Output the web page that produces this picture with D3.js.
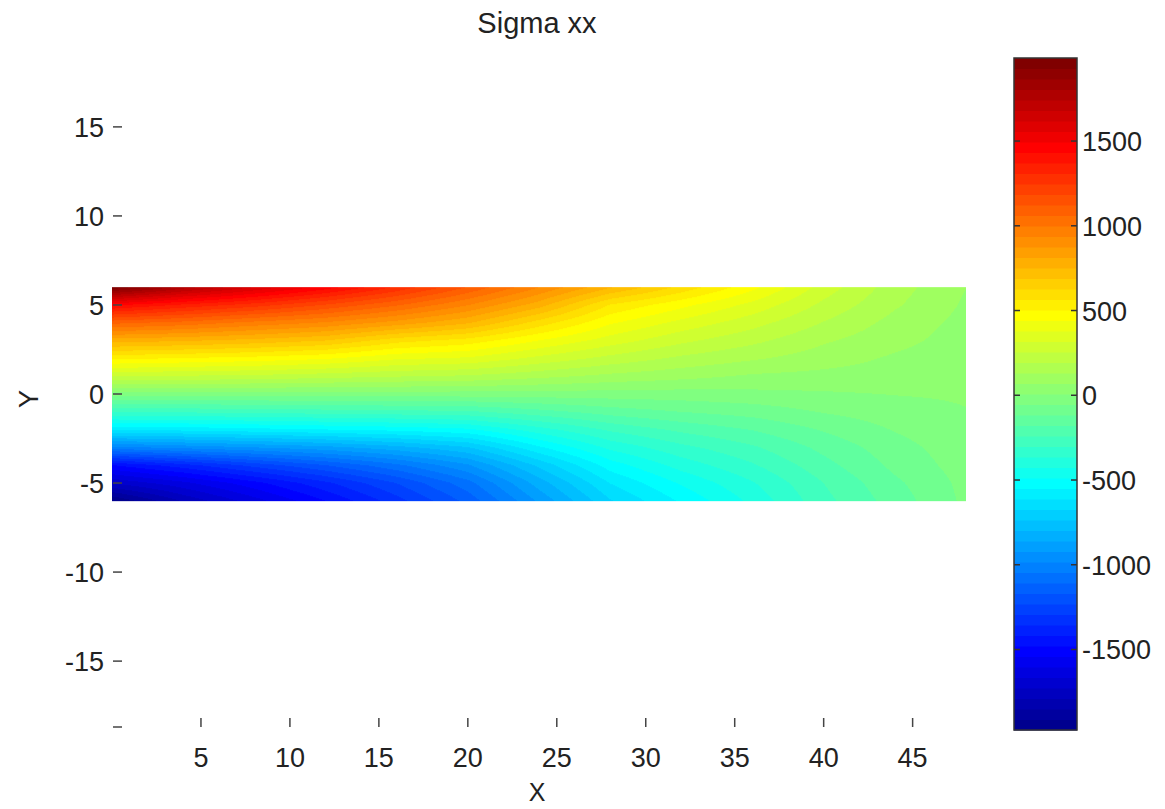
<!DOCTYPE html>
<html>
<head>
<meta charset="utf-8">
<script src="https://cdn.jsdelivr.net/npm/d3@7"></script>
<style>
  body { margin: 0; background: #fff; }
  text { font-family: "Liberation Sans", Arial, sans-serif; fill: #222; }
</style>
</head>
<body>
<svg width="1165" height="809"></svg>
<script>
// grid nodes of the beam (x along the beam, y across it)
const xNodes = [0, 4, 8, 12, 16, 20, 24, 28, 32, 36, 40, 44, 48];
const yNodes = [6, 5, 4, 3, 2, 1, 0, -1, -2, -3, -4, -5, -6];

// sigma xx, one row per yNodes entry
const sigmaXX = [
  [1990, 1780, 1620, 1470, 1300, 1120, 940, 760, 610, 460, 290, 160, 70],
  [1450, 1360, 1280, 1180, 1070, 940, 780, 560, 460, 360, 240, 140, 60],
  [1080, 1040, 980, 930, 850, 760, 600, 450, 360, 280, 190, 110, 50],
  [780, 760, 730, 690, 590, 540, 440, 350, 270, 210, 140, 90, 40],
  [520, 500, 480, 450, 390, 370, 300, 235, 180, 140, 100, 60, 30],
  [260, 250, 240, 220, 200, 185, 150, 115, 90, 60, 50, 40, 20],
  [-20, -20, -20, -20, -20, -20, -20, -20, -20, -10, 0, 10, 15],
  [-290, -290, -280, -270, -260, -250, -200, -150, -115, -90, -50, -20, 5],
  [-600, -590, -570, -550, -530, -500, -390, -290, -225, -175, -110, -50, -5],
  [-1000, -960, -920, -880, -820, -740, -560, -410, -320, -250, -160, -80, -15],
  [-1480, -1380, -1270, -1170, -1060, -930, -720, -520, -400, -310, -200, -100, -25],
  [-1720, -1620, -1500, -1370, -1230, -1070, -830, -610, -480, -370, -240, -130, -35],
  [-1975, -1780, -1630, -1480, -1320, -1150, -910, -680, -540, -410, -260, -150, -40],
];

const xTicks = [5, 10, 15, 20, 25, 30, 35, 40, 45];
const yTicks = [15, 10, 5, 0, -5, -10, -15];
const cTicks = [1500, 1000, 500, 0, -500, -1000, -1500];
const cLimits = [-1975, 1990];

const svg = d3.select("svg");

// axes (axis equal)
const x = d3.scaleLinear().domain([0, 48]).range([112, 966]);
const y = d3.scaleLinear().domain([-18.7, 18.7]).range([727, 61]);

// matlab jet(64)
function jet64() {
  const m = 64, n = Math.ceil(m / 4);
  const u = [];
  for (let i = 1; i <= n; i++) u.push(i / n);
  for (let i = 0; i < n - 1; i++) u.push(1);
  for (let i = n; i >= 1; i--) u.push(i / n);
  const g0 = Math.ceil(n / 2) - (m % 4 === 1 ? 1 : 0);
  const cmap = d3.range(m).map(() => [0, 0, 0]);
  u.forEach((v, k) => {
    const g = g0 + k + 1, r = g + n, b = g - n;
    if (r <= m) cmap[r - 1][0] = v;
    cmap[g - 1][1] = v;
    if (b >= 1) cmap[b - 1][2] = v;
  });
  return cmap.map(c => d3.rgb(c[0] * 255, c[1] * 255, c[2] * 255));
}
const jet = jet64();
const color = d3.scaleQuantize().domain(cLimits).range(jet);

// beam field, interpolated shading like pcolor + shading interp
const gx = d3.scaleLinear().domain(d3.extent(xNodes)).range([0, xNodes.length - 1]);
const gy = d3.scaleLinear().domain([yNodes[0], yNodes[yNodes.length - 1]]).range([0, yNodes.length - 1]);
function valueAt(xv, yv) {
  const fx = Math.max(0, Math.min(xNodes.length - 1.0001, gx(xv)));
  const fy = Math.max(0, Math.min(yNodes.length - 1.0001, gy(yv)));
  const i = Math.floor(fx), j = Math.floor(fy);
  const tx = fx - i, ty = fy - j;
  const a = sigmaXX[j][i], b = sigmaXX[j][i + 1];
  const c = sigmaXX[j + 1][i], d = sigmaXX[j + 1][i + 1];
  return (a * (1 - tx) + b * tx) * (1 - ty) + (c * (1 - tx) + d * tx) * ty;
}

const x0 = x(0), x1 = x(48), yTop = y(6), yBot = y(-6);
const w = Math.round(x1 - x0), h = Math.round(yBot - yTop);
const canvas = document.createElement("canvas");
canvas.width = w; canvas.height = h;
const ctx = canvas.getContext("2d");
const img = ctx.createImageData(w, h);
for (let py = 0; py < h; py++) {
  for (let px = 0; px < w; px++) {
    const c = color(valueAt(x.invert(x0 + px + 0.5), y.invert(yTop + py + 0.5)));
    const k = (py * w + px) * 4;
    img.data[k] = c.r; img.data[k + 1] = c.g; img.data[k + 2] = c.b; img.data[k + 3] = 255;
  }
}
ctx.putImageData(img, 0, 0);
svg.append("image")
  .attr("x", x0).attr("y", yTop)
  .attr("width", w).attr("height", h)
  .attr("preserveAspectRatio", "none")
  .attr("href", canvas.toDataURL());

// y ticks (inward) and labels
const yAxis = svg.append("g");
yAxis.selectAll("line").data(yTicks.concat([-18.7])).join("line")
  .attr("x1", 113).attr("x2", 122)
  .attr("y1", d => y(d)).attr("y2", d => y(d))
  .attr("stroke", "#444").attr("stroke-width", 1.5);
yAxis.selectAll("text").data(yTicks).join("text")
  .attr("x", 104).attr("y", d => y(d) + 10)
  .attr("text-anchor", "end").attr("font-size", 27)
  .text(d => d);

// x ticks (inward from the bottom) and labels
const xAxis = svg.append("g");
xAxis.selectAll("line").data(xTicks).join("line")
  .attr("x1", d => x(d)).attr("x2", d => x(d))
  .attr("y1", 718).attr("y2", 727)
  .attr("stroke", "#444").attr("stroke-width", 1.5);
xAxis.selectAll("text").data(xTicks).join("text")
  .attr("x", d => x(d)).attr("y", 767)
  .attr("text-anchor", "middle").attr("font-size", 27)
  .text(d => d);

svg.append("text").attr("x", 537).attr("y", 33)
  .attr("text-anchor", "middle").attr("font-size", 29).text("Sigma xx");
svg.append("text").attr("x", 537).attr("y", 801)
  .attr("text-anchor", "middle").attr("font-size", 25).text("X");
svg.append("text").attr("transform", "translate(38,399) rotate(-90)")
  .attr("text-anchor", "middle").attr("font-size", 27).text("Y");

// colorbar
const cb = { left: 1014, right: 1077 };
const cy = d3.scaleLinear().domain(cLimits).range([730, 58]);
const step = (cLimits[1] - cLimits[0]) / jet.length;
svg.append("g").selectAll("rect").data(jet).join("rect")
  .attr("x", cb.left).attr("width", cb.right - cb.left)
  .attr("y", (d, i) => cy(cLimits[0] + (i + 1) * step))
  .attr("height", (d, i) => cy(cLimits[0] + i * step) - cy(cLimits[0] + (i + 1) * step) + 0.5)
  .attr("fill", d => d);
svg.append("rect")
  .attr("x", cb.left).attr("y", cy(cLimits[1]))
  .attr("width", cb.right - cb.left).attr("height", cy(cLimits[0]) - cy(cLimits[1]))
  .attr("fill", "none").attr("stroke", "#333").attr("stroke-width", 1.5);
const cAxis = svg.append("g");
cAxis.selectAll("line.l").data(cTicks).join("line").attr("class", "l")
  .attr("x1", cb.left).attr("x2", cb.left + 6)
  .attr("y1", d => cy(d)).attr("y2", d => cy(d))
  .attr("stroke", "#333").attr("stroke-width", 1.5);
cAxis.selectAll("line.r").data(cTicks).join("line").attr("class", "r")
  .attr("x1", cb.right - 6).attr("x2", cb.right)
  .attr("y1", d => cy(d)).attr("y2", d => cy(d))
  .attr("stroke", "#333").attr("stroke-width", 1.5);
cAxis.selectAll("text").data(cTicks).join("text")
  .attr("x", 1082).attr("y", d => cy(d) + 10)
  .attr("font-size", 27)
  .text(d => d);
</script>
</body>
</html>
